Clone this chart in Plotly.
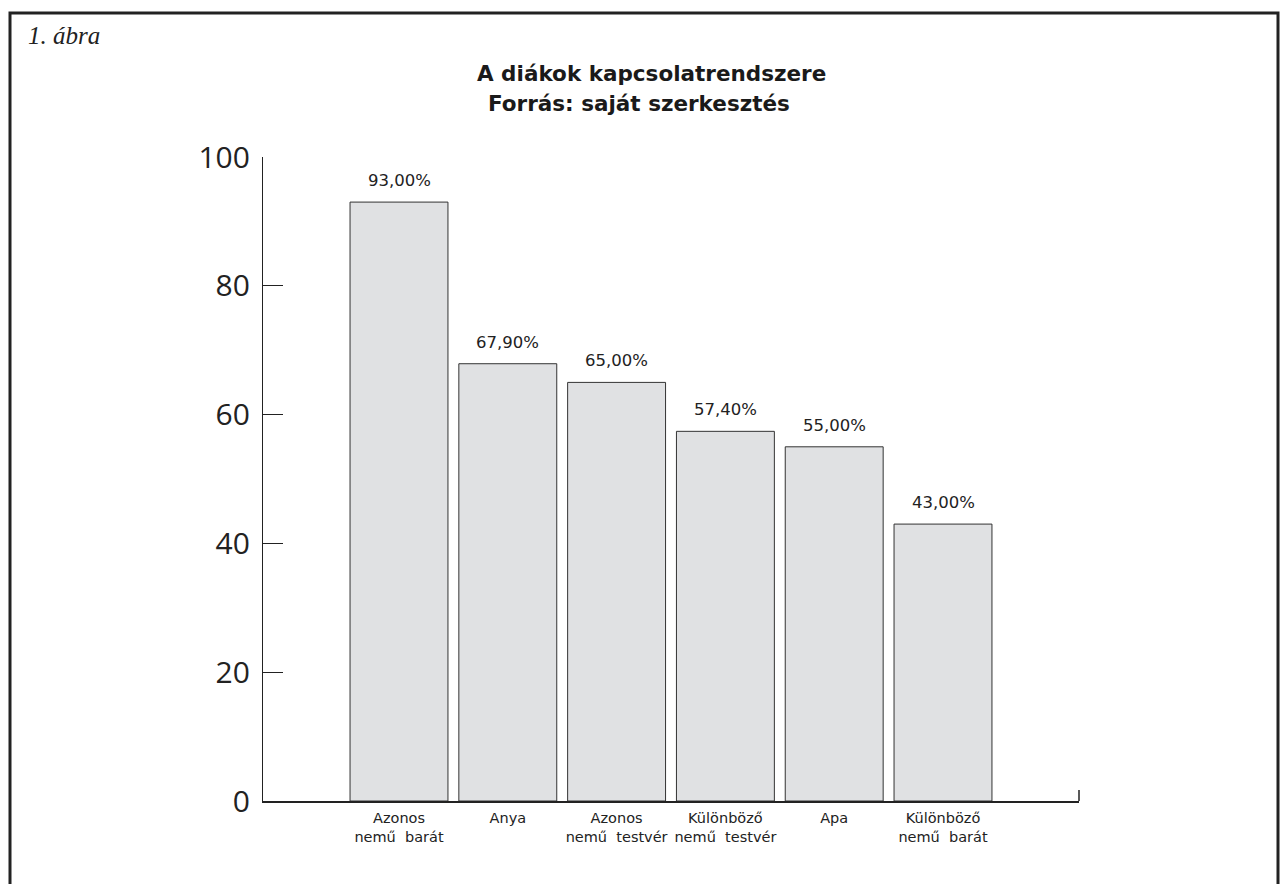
import plotly.graph_objects as go

categories = ["Azonos<br>nemű  barát", "Anya", "Azonos<br>nemű  testvér",
              "Különböző<br>nemű  testvér", "Apa", "Különböző<br>nemű  barát"]
values = [93.0, 67.9, 65.0, 57.4, 55.0, 43.0]
y_ticks = [0, 20, 40, 60, 80, 100]
title_lines = ["A diákok kapcsolatrendszere", "Forrás: saját szerkesztés"]
figure_label = "1. ábra"

W, H = 1280, 884
L, R, T, B = 263, 1079, 157, 801  # plot area pixels

def px(x):
    return (x - L) / (R - L)

def py(y):
    return (B - y) / (B - T)

xs = list(range(len(categories)))
value_texts = [f"{v:.2f}%".replace(".", ",") for v in values]

fig = go.Figure()
fig.add_trace(go.Bar(
    x=xs, y=values,
    marker=dict(color="#e0e1e3", line=dict(color="#333333", width=1)),
    width=0.9,
    hoverinfo="skip",
))

annotations = []
for x, v, t in zip(xs, values, value_texts):
    annotations.append(dict(x=x, y=v, text=t, showarrow=False, xref="x", yref="y",
                            yanchor="bottom", yshift=10,
                            font=dict(family="DejaVu Sans, sans-serif", size=16.5, color="#222")))

annotations.append(dict(x=px(651), y=py(73), xref="paper", yref="paper", showarrow=False,
                        text=f"<b>{title_lines[0]}</b>", xanchor="center", yanchor="middle",
                        font=dict(family="DejaVu Sans, sans-serif", size=21.5, color="#1a1a1a")))
annotations.append(dict(x=px(639), y=py(103), xref="paper", yref="paper", showarrow=False,
                        text=f"<b>{title_lines[1]}</b>", xanchor="center", yanchor="middle",
                        font=dict(family="DejaVu Sans, sans-serif", size=21.5, color="#1a1a1a")))
annotations.append(dict(x=px(26), y=py(36), xref="paper", yref="paper", showarrow=False,
                        text=f"<i>{figure_label}</i>", xanchor="left", yanchor="middle",
                        font=dict(family="Liberation Serif, serif", size=25, color="#222")))

shapes = [
    dict(type="rect", xref="paper", yref="paper", x0=px(10), x1=px(1278), y0=py(900), y1=py(13),
         line=dict(color="#222", width=3), fillcolor="rgba(0,0,0,0)", layer="below"),
    dict(type="line", xref="paper", yref="paper", x0=1, x1=1, y0=0, y1=py(790),
         line=dict(color="#222", width=1.5)),
]

fig.update_layout(
    width=W, height=H,
    margin=dict(l=L, r=W - R, t=T, b=H - B, pad=0, autoexpand=False),
    paper_bgcolor="white", plot_bgcolor="white",
    showlegend=False,
    annotations=annotations,
    shapes=shapes,
    xaxis=dict(range=[-1.25, 6.25], tickmode="array", tickvals=xs, ticktext=categories,
               showline=True, linecolor="#222", linewidth=1.5, ticks="", showgrid=False,
               zeroline=False, fixedrange=True, ticklabelstandoff=3, tickangle=0,
               automargin=False,
               tickfont=dict(family="DejaVu Sans, sans-serif", size=14.5, color="#222")),
    yaxis=dict(range=[0, 100], tickmode="array", tickvals=y_ticks,
               showline=True, linecolor="#222", linewidth=1.2, ticks="inside", ticklen=20,
               tickcolor="#222", tickwidth=1.2, showgrid=False, zeroline=False,
               ticklabelstandoff=6, fixedrange=True, automargin=False,
               tickfont=dict(family="Open Sans, sans-serif", size=30, color="#222")),
)

fig.write_html("out.html")
